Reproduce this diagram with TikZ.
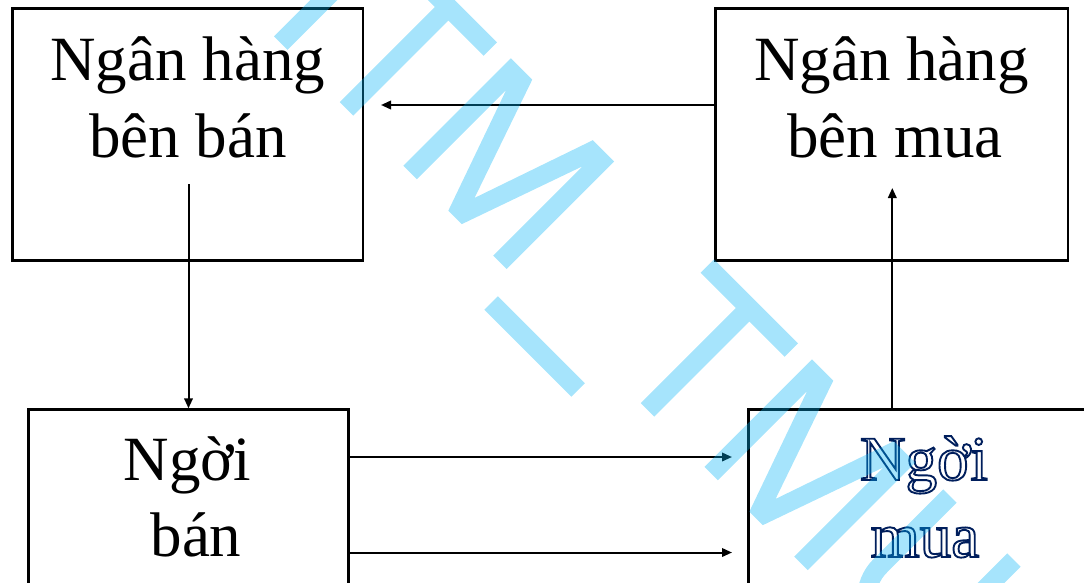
\documentclass[tikz,border=0pt]{standalone}
\usepackage{fontspec}
\setmainfont{Liberation Serif}
\usetikzlibrary{arrows.meta}

\definecolor{wmcyan}{RGB}{0,178,245}
\definecolor{outlineblue}{RGB}{0,30,92}

% hollow (stroked-only) glyphs via the PDF text render mode
\newcommand\hollowtext[1]{\special{pdf:literal direct 1 Tr 1.9 w}#1\special{pdf:literal direct 0 Tr}}

\tikzset{
  box/.style={draw, line width=2.3pt, rectangle, inner sep=0pt},
  lbl/.style={anchor=base, inner sep=0pt, font=\fontsize{63}{77}\selectfont},
  link/.style={line width=2pt, -{Triangle[length=10pt,width=8.5pt]}},
  wm/.style={wmcyan, opacity=0.35},
}

\begin{document}
\begin{tikzpicture}[x=1pt,y=-1pt]
\useasboundingbox (0,0) rectangle (1084,582);
\clip (0,0) rectangle (1084,582);

% boxes
\node[box, minimum width=350.5pt, minimum height=252pt] (bA) at (187.75,134.5) {};
\node[box, minimum width=352.5pt, minimum height=252pt] (bB) at (891.75,134.5) {};
\node[box, minimum width=320pt,   minimum height=240.5pt] (bC) at (188.5,529.75) {};
\node[box, minimum width=351.5pt, minimum height=240.5pt] (bD) at (924.25,529.75) {};

% labels
\node[lbl] (tA1) at (187.75,80) {Ngân hàng};
\node[lbl] (tA2) at (188,157) {bên bán};
\node[lbl] (tB1) at (891.5,80) {Ngân hàng};
\node[lbl] (tB2) at (895,157) {bên mua};
\node[lbl] (tC1) at (187.5,480) {Ngời};
\node[lbl] (tC2) at (196,556) {bán};
\node[lbl, text=outlineblue] (tD1) at (924,480) {\hollowtext{Ngời}};
\node[lbl, text=outlineblue] (tD2) at (925,557) {\hollowtext{mua}};

% connectors
\coordinate (a1end) at (381,105);
\draw[link] (bB.west |- a1end) -- (a1end);
\coordinate (a2start) at (188.5,184);
\draw[link] (a2start) -- (a2start |- bC.north);
\coordinate (a3end) at (892.3,188);
\draw[link] (a3end |- bD.north) -- (a3end);
\coordinate (a4end) at (732,457);
\draw[link] (bC.east |- a4end) -- (a4end);
\coordinate (a5end) at (732,552.5);
\draw[link] (bC.east |- a5end) -- (a5end);

% diagonal watermark, set along a 45 degree baseline
\begin{scope}[x={(0.70711pt,-0.70711pt)}, y={(0.70711pt,0.70711pt)}]
  \draw[wm, line width=19pt, line cap=butt, line join=miter]
    (229,168) -- (229,360)
    (322,168) -- (322,312) (262.6,312) -- (381.4,312)
    (561.5,133) -- (684.5,133)
    (747.7,168) -- (747.7,312) (688.3,312) -- (807.1,312)
    (1022.5,321) -- (1022.5,222) arc[start angle=180, end angle=360, radius=45.25] -- (1113,321);
  \fill[wm] (402.5,168) -- (402.5,320) -- (432.7,320) -- (475.5,195.6) -- (518.3,320)
    -- (548.5,320) -- (548.5,168) -- (529.5,168) -- (529.5,294.4) -- (485,168)
    -- (466,168) -- (421.5,294.4) -- (421.5,168) -- cycle;
  \begin{scope}[shift={(425.7,0)}]
  \fill[wm] (402.5,168) -- (402.5,320) -- (432.7,320) -- (475.5,195.6) -- (518.3,320)
    -- (548.5,320) -- (548.5,168) -- (529.5,168) -- (529.5,294.4) -- (485,168)
    -- (466,168) -- (421.5,294.4) -- (421.5,168) -- cycle;
  \end{scope}
\end{scope}
\end{tikzpicture}
\end{document}
